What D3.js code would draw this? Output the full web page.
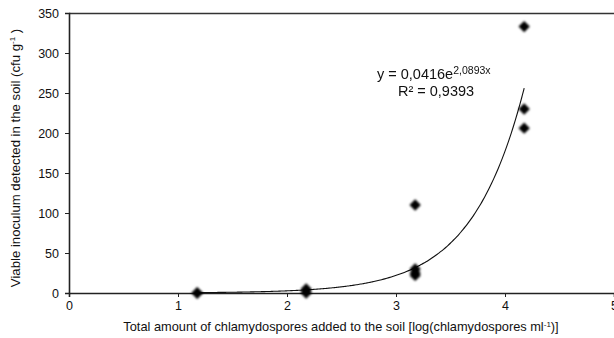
<!DOCTYPE html>
<html>
<head>
<meta charset="utf-8">
<script src="https://cdn.jsdelivr.net/npm/d3@7"></script>
<style>
  body { margin: 0; background: #fff; }
  svg { display: block; font-family: "Liberation Sans", Arial, sans-serif; }
</style>
</head>
<body>
<div id="chart"></div>
<script>
// Data
const logDoses = [1.176, 1.176, 1.176, 2.176, 2.176, 2.176, 3.176, 3.176, 3.176, 3.176, 4.176, 4.176, 4.176];
const inoculum = [0, 0, 0, 5, 2, 0, 110, 30, 25, 22, 333, 230, 206];
const xTicks = [0, 1, 2, 3, 4, 5];
const yTicks = [0, 50, 100, 150, 200, 250, 300, 350];
// Exponential trendline as printed on the chart
const fitA = 0.0416;
const fitB = 2.0893;

const width = 614, height = 338;
const margin = { top: 13, right: 0, bottom: 45, left: 69 };
const innerWidth = 545;
const innerHeight = height - margin.top - margin.bottom;

const svg = d3.select("#chart").append("svg")
  .attr("width", width)
  .attr("height", height);

const defs = svg.append("defs");
defs.append("filter").attr("id", "blur")
  .attr("x", "-50%").attr("y", "-50%").attr("width", "200%").attr("height", "200%")
  .append("feGaussianBlur").attr("stdDeviation", 1.1);

const g = svg.append("g").attr("transform", `translate(${margin.left},${margin.top})`);

const x = d3.scaleLinear().domain([0, 5]).range([0, innerWidth]);
const y = d3.scaleLinear().domain([0, 350]).range([innerHeight, 0]);

// Plot border (top)
g.append("line")
  .attr("x1", 0).attr("x2", innerWidth)
  .attr("y1", 0.5).attr("y2", 0.5)
  .attr("stroke", "#333").attr("stroke-width", 1.3);

// Axes
const xAxis = g.append("g")
  .attr("transform", `translate(0,${innerHeight})`)
  .call(d3.axisBottom(x).tickValues(xTicks).tickSize(4).tickPadding(4).tickFormat(d3.format("d")));
const yAxis = g.append("g")
  .call(d3.axisLeft(y).tickValues(yTicks).tickSize(4).tickPadding(6).tickFormat(d3.format("d")));

[xAxis, yAxis].forEach(a => {
  a.select(".domain").attr("stroke", "#222").attr("stroke-width", 1.6);
  a.selectAll(".tick line").attr("stroke", "#222");
  a.selectAll("text").attr("fill", "#111").style("font-size", "12.5px")
    .style("font-family", "'Liberation Sans', Arial, sans-serif");
});

// Trendline
const fitX = d3.range(1.176, 4.1761, 0.02);
const line = d3.line().x(d => x(d)).y(d => y(fitA * Math.exp(fitB * d))).curve(d3.curveBasis);
g.append("path")
  .datum(fitX)
  .attr("d", line)
  .attr("fill", "none")
  .attr("stroke", "#111")
  .attr("stroke-width", 1.1);

// Points (square rotated into a diamond, softened)
g.append("g").attr("filter", "url(#blur)")
  .selectAll("path")
  .data(logDoses.map((d, i) => [d, inoculum[i]]))
  .enter()
  .append("path")
  .attr("transform", d => `translate(${x(d[0])},${y(d[1])}) rotate(45)`)
  .attr("d", d3.symbol().type(d3.symbolSquare).size(64))
  .attr("fill", "#000");

// Equation labels
const eq = g.append("text")
  .attr("x", 308).attr("y", 66)
  .style("font-size", "14.5px").attr("fill", "#111");
eq.append("tspan").text("y = 0,0416e");
eq.append("tspan").attr("dy", -5).style("font-size", "10.5px").text("2,0893x");

g.append("text")
  .attr("x", 367).attr("y", 83)
  .attr("text-anchor", "middle")
  .style("font-size", "14.5px").attr("fill", "#111")
  .text("R\u00B2 = 0,9393");

// Axis titles
const xt = svg.append("text")
  .attr("x", 341).attr("y", 331)
  .attr("text-anchor", "middle")
  .style("font-size", "12.8px").attr("fill", "#111");
xt.append("tspan").text("Total amount of chlamydospores added to the soil [log(chlamydospores ml");
xt.append("tspan").attr("dy", -4).style("font-size", "8px").text("-1");
xt.append("tspan").attr("dy", 4).text(")]");

const yt = svg.append("text")
  .attr("transform", "translate(20,158) rotate(-90)")
  .attr("text-anchor", "middle")
  .style("font-size", "13.2px").attr("fill", "#111");
yt.append("tspan").text("Viable inoculum detected in the soil (cfu g");
yt.append("tspan").attr("dy", -5).style("font-size", "8px").text("-1");
yt.append("tspan").attr("dy", 5).text(" )");
</script>
</body>
</html>
